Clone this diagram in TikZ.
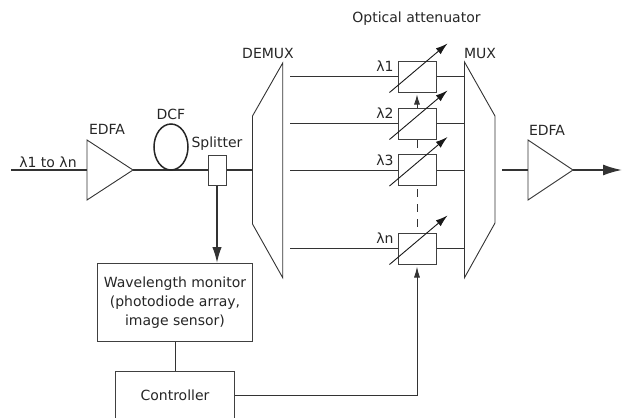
\documentclass[tikz,border=0pt]{standalone}
\usepackage{fontspec}
\setmainfont{DejaVu Sans}
\usetikzlibrary{arrows.meta,calc}
\tikzset{
 lbl/.style={inner sep=0pt,font=\fontsize{14}{19.3}\selectfont,text=black!85},
 thin line/.style={line width=0.9pt,draw=black!80},
 thick line/.style={line width=1.7pt,draw=black!80},
 shp/.style={line width=0.9pt,draw=black!80,fill=white},
 boxs/.style={draw=black!75,line width=1pt,fill=white,inner sep=0pt,minimum width=38pt,minimum height=31pt},
 tuner/.style={line width=0.9pt,draw=black!90,-{Latex[length=12pt,width=7.5pt]}},
 dashlink/.style={thin line,dash pattern=on 8pt off 7pt,shorten <=6pt}
}
\begin{document}
\begin{tikzpicture}[x=1pt,y=-1pt]
\useasboundingbox (0,0) rectangle (625,418);
\coordinate (in) at (11,170);
\coordinate (outp) at (622,170);
\coordinate (edfaL) at (87,170);
\coordinate (edfaR) at (133,170);
\coordinate (edfbL) at (528,170);
\coordinate (edfbR) at (573,170);
\coordinate (demuxL) at (252.5,170);
\coordinate (muxR) at (502,170);
\node[boxs,minimum width=18pt,minimum height=30pt] (spl) at (217,170) {};
\node[boxs,minimum width=155pt,minimum height=78pt,align=center,lbl] (wm) at (175,302.5) {Wavelength monitor\\(photodiode array,\\image sensor)};
\node[boxs,minimum width=119pt,minimum height=48pt,lbl] (ctl) at (175,395.3) {Controller};
\node[boxs] (a1) at (417,76.5) {};
\node[boxs] (a2) at (417,123.5) {};
\node[boxs] (a3) at (417,170) {};
\node[boxs] (an) at (417,248.5) {};
\draw[thick line] (in) -- (edfaL);
\draw[thick line] (edfaR) -- (spl.west);
\draw[thick line] (spl.east) -- (demuxL);
\draw[thick line] (muxR) -- (edfbL);
\draw[thick line,-{Latex[length=19pt,width=11pt]}] (edfbR) -- (outp);
\draw[thick line,-{Latex[length=16pt,width=9.5pt]}] (spl.south) -- (wm.north -| spl.south);
\draw[thin line] (wm.south) -- (ctl.north);
\draw[thin line,-{Latex[length=11pt,width=6pt]},shorten >=2pt] (ctl.east) -| (an.south);
\draw[dashlink] (an.north) -- (a3.south);
\draw[dashlink] (a3.north) -- (a2.south);
\draw[thin line,-{Latex[length=10pt,width=6pt]},shorten >=2pt] (a2.north) -- (a1.south);
\foreach \n/\y in {a1/76.5,a2/123.5,a3/170,an/248.5}{
 \draw[thin line] (290,\y) -- (\n.west);
 \draw[thin line] (\n.east) -- (464.5,\y);
 \draw[tuner] ($(\n.south west)+(-8,0)$) -- ($(\n.north east)+(11,-17)$);
}
\draw[shp] (87,140) -- (133,170) -- (87,200) -- cycle;
\draw[shp] (528,140) -- (573,170) -- (528,200) -- cycle;
\draw[line width=1.5pt,draw=black!85] (171,147) ellipse (17 and 23);
\draw[shp,fill=none] (282.7,63) -- (252.5,116) -- (252.5,224) -- (282.7,277.7) -- cycle;
\draw[shp,fill=none] (464.5,62) -- (495,116) -- (495,223) -- (464.5,277.7) -- cycle;
\node[lbl] (tin) at (48,162) {λ1 to λn};
\node[lbl] (te1) at (107,129) {EDFA};
\node[lbl] (tdcf) at (171,114) {DCF};
\node[lbl] (tspl) at (217,144) {Splitter};
\node[lbl] (tdem) at (268,53.5) {DEMUX};
\node[lbl] (tmux) at (480,53) {MUX};
\node[lbl] (te2) at (547,130) {EDFA};
\node[lbl] (topt) at (416.5,18.5) {Optical attenuator};
\node[lbl] (l1) at (385,66) {λ1};
\node[lbl] (l2) at (385,113) {λ2};
\node[lbl] (l3) at (385,160) {λ3};
\node[lbl] (ln) at (385,238) {λn};
\end{tikzpicture}
\end{document}
